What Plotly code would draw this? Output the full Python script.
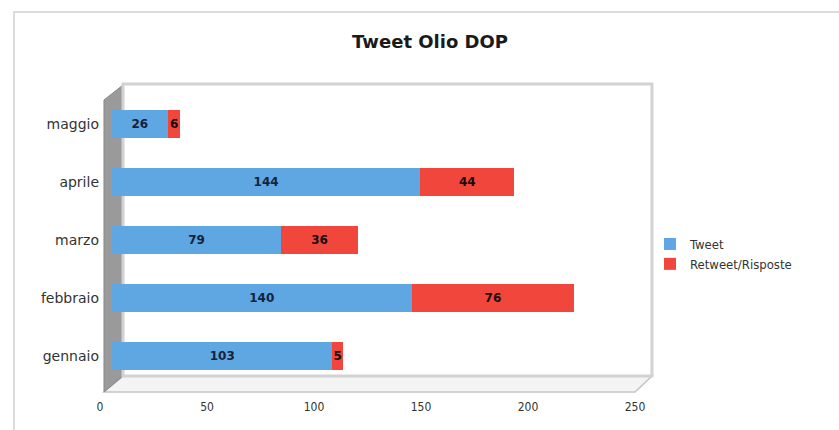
import plotly.graph_objects as go

# Monthly tweet counts for the "Olio DOP" account
months = ["gennaio", "febbraio", "marzo", "aprile", "maggio"]
tweet = [103, 140, 79, 144, 26]
retweet = [5, 76, 36, 44, 6]
x_ticks = [0, 50, 100, 150, 200, 250]

W, H = 839, 430
L, R, T, B = 112, 192, 95, 45
PW, PH = W - L - R, H - T - B


def px(x, y):
    """Convert page pixels to paper coordinates."""
    return (x - L) / PW, (H - B - y) / PH


def path(points):
    parts = []
    for i, (x, y) in enumerate(points):
        u, v = px(x, y)
        parts.append(("M" if i == 0 else "L") + f"{u:.4f},{v:.4f}")
    return " ".join(parts) + " Z"


fig = go.Figure()
fig.add_trace(go.Bar(
    y=months, x=tweet, name="Tweet", orientation="h",
    marker=dict(color="#5ea7e3", line=dict(width=0)),
    text=tweet, textposition="inside", insidetextanchor="middle",
    textfont=dict(family="DejaVu Sans", size=12, color="#14233a", weight="bold"),
))
fig.add_trace(go.Bar(
    y=months, x=retweet, name="Retweet/Risposte", orientation="h",
    marker=dict(color="#f0463c", line=dict(width=0)),
    text=retweet, textposition="inside", insidetextanchor="middle",
    textfont=dict(family="DejaVu Sans", size=12, color="#1a0a0a", weight="bold"),
    constraintext="none",
))

shapes = [
    # outer chart frame
    dict(type="rect", xref="paper", yref="paper",
         x0=px(14, 0)[0], x1=px(850, 0)[0], y0=px(0, 440)[1], y1=px(0, 12)[1],
         line=dict(color="#dcdcdc", width=2), fillcolor="rgba(0,0,0,0)", layer="below"),
    # floor
    dict(type="path", xref="paper", yref="paper",
         path=path([(104, 392), (123, 376), (652, 376), (635, 392)]),
         fillcolor="#f4f4f4", line=dict(color="#c4c4c4", width=1.5), layer="below"),
    # left wall
    dict(type="path", xref="paper", yref="paper",
         path=path([(104, 100), (123, 85), (123, 376), (104, 392)]),
         fillcolor="#9a9a9a", line=dict(color="#8a8a8a", width=1), layer="below"),
    # back plane edges
    dict(type="path", xref="paper", yref="paper",
         path=path([(123, 84), (652, 84), (652, 376), (123, 376)]),
         fillcolor="rgba(0,0,0,0)", line=dict(color="#d2d2d2", width=3), layer="below"),
]

fig.update_layout(
    width=W, height=H,
    margin=dict(l=L, r=R, t=T, b=B),
    paper_bgcolor="white", plot_bgcolor="rgba(0,0,0,0)",
    barmode="stack", bargap=0.52,
    title=dict(text="<b>Tweet Olio DOP</b>", x=430 / W, xanchor="center",
               y=1 - 42 / H, yanchor="middle",
               font=dict(family="DejaVu Sans", size=18, color="#1a1a1a")),
    xaxis=dict(range=[0, 250], tickvals=x_ticks, showgrid=False, zeroline=False,
               showline=False, ticks="", ticklabelstandoff=13, ticklabelshift=-12,
               tickfont=dict(family="DejaVu Sans Condensed", size=12, color="#333333")),
    yaxis=dict(categoryorder="array", categoryarray=months, showgrid=False,
               zeroline=False, showline=False, ticks="", ticklabelstandoff=12,
               tickfont=dict(family="DejaVu Sans", size=14, color="#333333")),
    legend=dict(x=px(650, 0)[0], y=px(0, 229)[1], xanchor="left", yanchor="top",
                traceorder="normal",
                font=dict(family="DejaVu Sans Condensed", size=13, color="#333333"),
                itemwidth=30, tracegroupgap=0, bgcolor="rgba(0,0,0,0)"),
    shapes=shapes,
    showlegend=True,
)

fig.write_html("out.html")
